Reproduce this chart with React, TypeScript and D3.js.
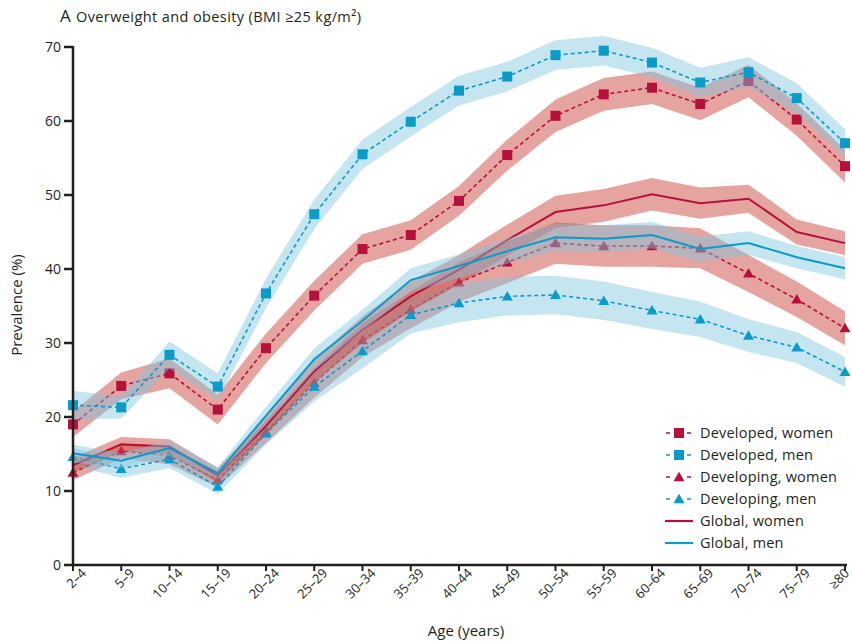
import React from "react";
import * as d3 from "d3";

const ages = ["2–4","5–9","10–14","15–19","20–24","25–29","30–34","35–39","40–44","45–49","50–54","55–59","60–64","65–69","70–74","75–79","≥80"];
const yTicks = [0, 10, 20, 30, 40, 50, 60, 70];

const developedWomen = [19.0, 24.2, 25.9, 21.0, 29.3, 36.4, 42.7, 44.6, 49.2, 55.4, 60.7, 63.6, 64.5, 62.3, 65.4, 60.2, 53.9];
const developedWomenCI = [1.7, 1.8, 2.0, 2.0, 2.0, 2.0, 2.0, 2.0, 2.0, 2.1, 2.2, 2.2, 2.2, 2.2, 2.2, 2.2, 2.2];
const developedMen = [21.6, 21.3, 28.4, 24.1, 36.7, 47.4, 55.5, 59.9, 64.1, 66.0, 68.9, 69.5, 67.9, 65.2, 66.6, 63.1, 57.0];
const developedMenCI = [1.9, 1.5, 1.8, 1.8, 2.0, 2.0, 2.0, 2.0, 2.0, 2.0, 2.0, 2.0, 2.0, 2.0, 2.0, 2.0, 1.9];
const developingWomen = [12.5, 15.4, 14.8, 11.5, 18.0, 24.6, 30.4, 34.5, 38.2, 40.9, 43.5, 43.1, 43.1, 42.8, 39.4, 35.9, 32.0];
const developingWomenCI = [1.0, 1.0, 1.2, 1.0, 1.5, 2.0, 2.3, 2.5, 2.7, 2.8, 2.8, 2.8, 2.8, 2.7, 2.5, 2.4, 2.3];
const developingMen = [14.6, 13.0, 14.3, 10.6, 17.8, 24.1, 28.9, 33.8, 35.4, 36.3, 36.5, 35.7, 34.4, 33.2, 31.0, 29.4, 26.1];
const developingMenCI = [1.2, 1.2, 1.2, 1.0, 1.5, 2.0, 2.3, 2.5, 2.6, 2.6, 2.6, 2.6, 2.5, 2.4, 2.2, 2.1, 2.0];
const globalWomen = [13.5, 16.3, 16.0, 12.1, 18.8, 26.2, 31.8, 36.3, 39.9, 43.9, 47.7, 48.6, 50.1, 48.9, 49.5, 45.0, 43.5];
const globalWomenCI = [1.0, 1.0, 1.0, 1.0, 1.2, 1.5, 1.8, 2.0, 2.0, 2.1, 2.2, 2.2, 2.2, 2.1, 1.9, 1.7, 1.6];
const globalMen = [15.1, 14.1, 15.8, 12.4, 20.2, 27.8, 33.0, 38.5, 40.4, 42.4, 44.3, 44.1, 44.6, 42.7, 43.5, 41.6, 40.1];
const globalMenCI = [1.2, 1.0, 1.0, 0.8, 1.2, 1.5, 1.5, 1.6, 1.6, 1.7, 1.8, 1.8, 1.8, 1.7, 1.6, 1.5, 1.5];

const RED = "#b5113b";
const BLUE = "#0a9bc8";

const seriesList = [
  { name: "Developed, women", values: developedWomen, ci: developedWomenCI, color: RED, marker: "square", dashed: true },
  { name: "Developed, men", values: developedMen, ci: developedMenCI, color: BLUE, marker: "square", dashed: true },
  { name: "Developing, women", values: developingWomen, ci: developingWomenCI, color: RED, marker: "triangle", dashed: true },
  { name: "Developing, men", values: developingMen, ci: developingMenCI, color: BLUE, marker: "triangle", dashed: true },
  { name: "Global, women", values: globalWomen, ci: globalWomenCI, color: RED, marker: "none", dashed: false },
  { name: "Global, men", values: globalMen, ci: globalMenCI, color: BLUE, marker: "none", dashed: false },
];

const FONT = "'Open Sans', 'Noto Sans', sans-serif";
const INK = "#231f20";

function Marker({ type, x, y, color }: { type: string; x: number; y: number; color: string }) {
  if (type === "square") {
    return <rect x={x - 5} y={y - 5} width={10} height={10} fill={color} />;
  }
  if (type === "triangle") {
    const s = d3.symbol().type(d3.symbolTriangle).size(52)();
    return <path d={s || ""} transform={`translate(${x},${y + 1})`} fill={color} />;
  }
  return null;
}

export default function App() {
  const W = 852, H = 642;
  const x = d3.scalePoint<string>().domain(ages).range([73, 845]);
  const y = d3.scaleLinear().domain([0, 70]).range([565, 47]);

  const line = d3.line<number>().x((_, i) => x(ages[i]) as number).y((d) => y(d));

  const bandFill = (c: string) => (c === RED ? "#cc4a42" : "#7fc6e0");
  const bandOpacity = (c: string) => (c === RED ? 0.5 : 0.45);

  const legendX = 665;
  const legendY0 = 433;
  const legendStep = 22;

  return (
    <div style={{ position: "absolute", left: 0, top: 0 }}>
      <svg width={W} height={H} style={{ display: "block", background: "#fff" }} fontFamily={FONT}>
        {/* title */}
        <text x={60} y={22} fontSize={17} fill={INK}>A</text>
        <text x={76} y={22} fontSize={14.5} fill={INK} letterSpacing={0.4}>Overweight and obesity (BMI ≥25 kg/m²)</text>

        {/* series */}
        {seriesList.map((s, si) => {
          const area = d3
            .area<number>()
            .x((_, i) => x(ages[i]) as number)
            .y0((d, i) => y(d - s.ci[i]))
            .y1((d, i) => y(d + s.ci[i]));
          return (
            <g key={si}>
              <path d={area(s.values) || ""} fill={bandFill(s.color)} fillOpacity={bandOpacity(s.color)} />
              <path
                d={line(s.values) || ""}
                fill="none"
                stroke={s.color}
                strokeWidth={s.dashed ? 1.6 : 2}
                strokeDasharray={s.dashed ? "4 3" : undefined}
              />
              {s.marker !== "none" &&
                s.values.map((v, i) => (
                  <Marker key={i} type={s.marker} x={x(ages[i]) as number} y={y(v)} color={s.color} />
                ))}
            </g>
          );
        })}

        {/* axes */}
        <line x1={73} x2={73} y1={46} y2={566} stroke={INK} strokeWidth={2.5} />
        <line x1={72} x2={847} y1={565} y2={565} stroke={INK} strokeWidth={2.5} />
        {yTicks.map((t) => (
          <g key={t}>
            <line x1={64} x2={73} y1={y(t)} y2={y(t)} stroke={INK} strokeWidth={2.5} />
            <text x={61} y={y(t) + 5} textAnchor="end" fontSize={14} fill={INK}>{t}</text>
          </g>
        ))}
        {ages.map((a) => {
          const px = x(a) as number;
          const ax = Math.min(px + 14, 850);
          return (
            <g key={a}>
              <line x1={px} x2={px} y1={565} y2={571} stroke={INK} strokeWidth={2} />
              <text
                x={ax}
                y={574}
                textAnchor="end"
                fontSize={13}
                fill={INK}
                transform={`rotate(-45, ${ax}, ${574})`}
              >
                {a}
              </text>
            </g>
          );
        })}
        <text x={466} y={636} textAnchor="middle" fontSize={15} fill={INK}>Age (years)</text>
        <text
          x={0}
          y={0}
          textAnchor="middle"
          fontSize={15}
          fill={INK}
          transform={`translate(22, 305) rotate(-90)`}
        >
          Prevalence (%)
        </text>

        {/* legend */}
        {seriesList.map((s, i) => {
          const ly = legendY0 + i * legendStep;
          return (
            <g key={s.name}>
              {s.dashed ? (
                <>
                  <line x1={legendX} x2={legendX + 28} y1={ly} y2={ly} stroke={s.color} strokeWidth={1.6} strokeDasharray="4 3" strokeDashoffset={-1} />
                  <rect x={legendX + 8} y={ly - 7} width={12} height={14} fill="#fff" />
                  <Marker type={s.marker} x={legendX + 14} y={ly} color={s.color} />
                </>
              ) : (
                <line x1={legendX} x2={legendX + 28} y1={ly} y2={ly} stroke={s.color} strokeWidth={2.2} />
              )}
              <text x={legendX + 35} y={ly + 5} fontSize={14.5} fill={INK} letterSpacing={0.2}>{s.name}</text>
            </g>
          );
        })}
      </svg>
    </div>
  );
}
